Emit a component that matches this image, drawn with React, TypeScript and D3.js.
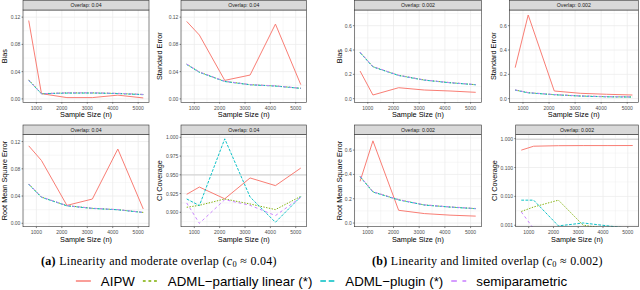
import React from "react";
import * as d3 from "d3";

// ---------- data ----------
const sampleSizes = [700, 1200, 2200, 3200, 4200, 5200];
const methodNames = ["AIPW", "ADML−partially linear (*)", "ADML−plugin (*)", "semiparametric"];
const methodColors = ["#F8766D", "#7CAE00", "#00BFC4", "#C77CFF"];
const xTicks = [1000, 2000, 3000, 4000, 5000];

// (a) moderate overlap
const biasA_AIPW = [0.115, 0.0077, 0.0019, 0.0019, 0.0055, 0.0014];
const biasA_PL = [0.028, 0.0077, 0.0088, 0.0088, 0.008, 0.0065];
const biasA_Plugin = [0.027, 0.0075, 0.0085, 0.0086, 0.0078, 0.0062];
const biasA_Semi = [0.0275, 0.0076, 0.009, 0.009, 0.0082, 0.0066];

const seA_AIPW = [0.1137, 0.0937, 0.0272, 0.035, 0.1098, 0.0209];
const seA_PL = [0.051, 0.0394, 0.0258, 0.0209, 0.019, 0.0156];
const seA_Plugin = [0.0505, 0.039, 0.0255, 0.0207, 0.0188, 0.0154];
const seA_Semi = [0.0512, 0.0396, 0.026, 0.021, 0.0191, 0.0157];

const rmseA_AIPW = [0.1137, 0.0922, 0.0263, 0.0356, 0.109, 0.021];
const rmseA_PL = [0.0576, 0.0385, 0.0259, 0.022, 0.02, 0.016];
const rmseA_Plugin = [0.0572, 0.0382, 0.0256, 0.0218, 0.0198, 0.0158];
const rmseA_Semi = [0.0578, 0.0387, 0.026, 0.0221, 0.0201, 0.0161];

const ciA_AIPW = [0.924, 0.9337, 0.918, 0.9458, 0.9356, 0.959];
const ciA_PL = [0.9067, 0.9093, 0.9178, 0.9111, 0.9036, 0.9213];
const ciA_Plugin = [0.9178, 0.909, 0.998, 0.9204, 0.8867, 0.9209];
const ciA_Semi = [0.9124, 0.8853, 0.9169, 0.9093, 0.8956, 0.9198];

// (b) limited overlap
const biasB_AIPW = [0.227, 0.03, 0.09, 0.071, 0.063, 0.052];
const biasB_PL = [0.381, 0.263, 0.192, 0.153, 0.1315, 0.115];
const biasB_Plugin = [0.378, 0.261, 0.19, 0.152, 0.1305, 0.114];
const biasB_Semi = [0.383, 0.264, 0.193, 0.154, 0.132, 0.116];

const seB_AIPW = [0.255, 0.688, 0.063, 0.044, 0.036, 0.03];
const seB_PL = [0.071, 0.049, 0.033, 0.022, 0.016, 0.014];
const seB_Plugin = [0.07, 0.048, 0.032, 0.021, 0.015, 0.013];
const seB_Semi = [0.072, 0.05, 0.034, 0.023, 0.017, 0.015];

const rmseB_AIPW = [0.343, 0.676, 0.105, 0.078, 0.065, 0.057];
const rmseB_PL = [0.384, 0.257, 0.192, 0.149, 0.132, 0.119];
const rmseB_Plugin = [0.381, 0.255, 0.19, 0.148, 0.131, 0.118];
const rmseB_Semi = [0.386, 0.258, 0.193, 0.15, 0.133, 0.12];

const ciB_AIPW = [0.4, 0.547, 0.57, 0.575, 0.575, 0.578];
const ciB_PL = [0.003, 0.0043, 0.0074, 0.001, 0, 0];
const ciB_Plugin = [0.0074, 0.0074, 0.00095, 0.0012, 0.00095, 0];
const ciB_Semi = [0.0029, 0, 0, 0, 0, 0];

const ticksA = [0, 0.04, 0.08, 0.12];
const ticksALabels = ["0.00", "0.04", "0.08", "0.12"];
const ticksB = [0, 0.2, 0.4, 0.6];
const ticksBLabels = ["0.0", "0.2", "0.4", "0.6"];
const ticksCiA = [0.9, 0.925, 0.95, 0.975, 1.0];
const ticksCiALabels = ["0.900", "0.925", "0.950", "0.975", "1.000"];
const ticksCiB = [0.001, 0.01, 0.1, 1];
const ticksCiBLabels = ["0.001", "0.010", "0.100", "1.000"];

// ---------- style ----------
const FONT = "'Liberation Sans', Arial, Helvetica, sans-serif";
const SERIF = "'Liberation Serif', 'Times New Roman', serif";
const dashes = [undefined, "1.4,1.4", "2.8,1.4", "2.8,2.8"];
const legendDashes = [undefined, "2.8,2.8", "5.6,2.8", "5.6,5.6"];

type PanelProps = {
  id: string;
  x0: number; x1: number; y0: number; y1: number; stripH: number;
  yDomain: [number, number]; log?: boolean;
  yTicks: number[]; yLabels: string[];
  yTitle: string; titleX: number; strip: string;
  series: number[][]; hline?: number;
};

function Panel(p: PanelProps) {
  const ext = d3.extent(sampleSizes) as [number, number];
  const pad = (ext[1] - ext[0]) * 0.05;
  const x = d3.scaleLinear().domain([ext[0] - pad, ext[1] + pad]).range([p.x0, p.x1]);
  const y = p.log
    ? d3.scaleLog().domain(p.yDomain).range([p.y1, p.y0])
    : d3.scaleLinear().domain(p.yDomain).range([p.y1, p.y0]);
  const xd = x.domain();
  const yd = p.yDomain;
  const xMinor: number[] = [];
  for (let v = 500; v <= 6000; v += 1000) if (v >= xd[0] && v <= xd[1]) xMinor.push(v);
  const yMinor: number[] = [];
  if (p.log) {
    const lt = p.yTicks.map((t) => Math.log10(t));
    const step = lt[1] - lt[0];
    for (let i = -1; i < lt.length; i++) {
      const v = Math.pow(10, lt[0] + step * (i + 0.5));
      if (v >= yd[0] && v <= yd[1]) yMinor.push(v);
    }
  } else {
    const step = p.yTicks[1] - p.yTicks[0];
    for (let i = -1; i < p.yTicks.length; i++) {
      const v = p.yTicks[0] + step * (i + 0.5);
      if (v >= yd[0] && v <= yd[1]) yMinor.push(v);
    }
  }
  const yv = (v: number) => (p.log && v <= 0 ? p.y1 + 2 : (y(v) as number));
  const line = d3
    .line<number>()
    .x((_, i) => x(sampleSizes[i]))
    .y((v) => yv(v));
  const cx = (p.x0 + p.x1) / 2;
  return (
    <g>
      <defs>
        <clipPath id={p.id}>
          <rect x={p.x0} y={p.y0} width={p.x1 - p.x0} height={p.y1 - p.y0} />
        </clipPath>
      </defs>
      <rect x={p.x0} y={p.y0} width={p.x1 - p.x0} height={p.y1 - p.y0} fill="#ffffff" />
      {xMinor.map((v) => (
        <line key={"xm" + v} x1={x(v)} x2={x(v)} y1={p.y0} y2={p.y1} stroke="#EBEBEB" strokeWidth={0.4} />
      ))}
      {yMinor.map((v) => (
        <line key={"ym" + v} x1={p.x0} x2={p.x1} y1={y(v)} y2={y(v)} stroke="#EBEBEB" strokeWidth={0.4} />
      ))}
      {xTicks.map((v) => (
        <line key={"xg" + v} x1={x(v)} x2={x(v)} y1={p.y0} y2={p.y1} stroke="#EBEBEB" strokeWidth={0.75} />
      ))}
      {p.yTicks.map((v) => (
        <line key={"yg" + v} x1={p.x0} x2={p.x1} y1={y(v)} y2={y(v)} stroke="#EBEBEB" strokeWidth={0.75} />
      ))}
      {p.hline !== undefined && (
        <line x1={p.x0} x2={p.x1} y1={y(p.hline)} y2={y(p.hline)} stroke="#D6D6D6" strokeWidth={1.3} />
      )}
      <g clipPath={`url(#${p.id})`}>
        {p.series.map((s, i) => (
          <path
            key={i}
            d={line(s) || ""}
            fill="none"
            stroke={methodColors[i]}
            strokeWidth={0.95}
            strokeDasharray={dashes[i]}
          />
        ))}
      </g>
      <rect x={p.x0} y={p.y0} width={p.x1 - p.x0} height={p.y1 - p.y0} fill="none" stroke="#333333" strokeWidth={0.6} />
      <rect x={p.x0} y={p.y0 - p.stripH} width={p.x1 - p.x0} height={p.stripH} fill="#D9D9D9" stroke="#333333" strokeWidth={0.6} />
      <text x={cx} y={p.y0 - p.stripH / 2} textAnchor="middle" dominantBaseline="central" fontSize={5.2} fill="#1A1A1A" fontFamily={FONT}>
        {p.strip}
      </text>
      {xTicks.map((v) => (
        <g key={"xt" + v}>
          <line x1={x(v)} x2={x(v)} y1={p.y1} y2={p.y1 + 1.4} stroke="#333333" strokeWidth={0.6} />
          <text x={x(v)} y={p.y1 + 5.4} textAnchor="middle" dominantBaseline="central" fontSize={5} fill="#4D4D4D" fontFamily={FONT}>
            {d3.format("d")(v)}
          </text>
        </g>
      ))}
      <text x={cx} y={p.y1 + 12.6} textAnchor="middle" dominantBaseline="central" fontSize={7.3} fill="#000" fontFamily={FONT}>
        Sample Size (n)
      </text>
      {p.yTicks.map((v, i) => (
        <g key={"yt" + v}>
          <line x1={p.x0 - 1.4} x2={p.x0} y1={y(v)} y2={y(v)} stroke="#333333" strokeWidth={0.6} />
          <text x={p.x0 - 2.6} y={y(v)} textAnchor="end" dominantBaseline="central" fontSize={5} fill="#4D4D4D" fontFamily={FONT}>
            {p.yLabels[i]}
          </text>
        </g>
      ))}
      <text
        transform={`translate(${p.titleX},${(p.y0 + p.y1) / 2}) rotate(-90)`}
        textAnchor="middle"
        dominantBaseline="central"
        fontSize={7.3}
        fill="#000"
        fontFamily={FONT}
      >
        {p.yTitle}
      </text>
    </g>
  );
}

function measure(text: string, font: string): number {
  const c = document.createElement("canvas").getContext("2d");
  if (!c) return text.length * 6;
  c.font = font;
  return c.measureText(text).width;
}

const CAP_SPACING = 0.3;

function Caption({ x, width, label, body, value }: { x: number; width: number; label: string; body: string; value: string }) {
  const base = 10;
  const full = `(${label}) ${body} (c0 ≈ ${value})`;
  const w =
    measure(`(${label})`, `bold ${base}px 'Liberation Serif'`) +
    measure(` ${body} (c`, `${base}px 'Liberation Serif'`) +
    measure("0", `${base * 0.7}px 'Liberation Serif'`) +
    measure(` ≈ ${value})`, `${base}px 'Liberation Serif'`);
  const spacing = CAP_SPACING * full.length;
  const fs = Math.min(14, Math.max(8, (base * (width - spacing)) / w));
  return (
    <text x={x} y={264.5} fontFamily={SERIF} fontSize={fs} fill="#000" letterSpacing={CAP_SPACING}>
      <tspan fontWeight="bold">({label})</tspan>
      <tspan> {body} (</tspan>
      <tspan fontStyle="italic">c</tspan>
      <tspan fontSize={fs * 0.7} dy={fs * 0.18}>0</tspan>
      <tspan dy={-fs * 0.18}> ≈ {value})</tspan>
    </text>
  );
}

export default function App() {
  const top = { y0: 10, y1: 102.3, stripH: 9.4 };
  const bot = { y0: 134.4, y1: 226.7, stripH: 9.4 };
  const domA: [number, number] = [-0.005, 0.1305];
  const domB: [number, number] = [-0.03, 0.729];
  const domCiA: [number, number] = [0.8808, 1.0039];
  const domCiB: [number, number] = [Math.pow(10, -3.05), Math.pow(10, 0.147)];

  const panels: PanelProps[] = [
    { id: "p1", x0: 23, x1: 149, ...top, yDomain: domA, yTicks: ticksA, yLabels: ticksALabels, yTitle: "Bias", titleX: 4.6, strip: "Overlap: 0.04", series: [biasA_AIPW, biasA_PL, biasA_Plugin, biasA_Semi] },
    { id: "p2", x0: 181, x1: 306.5, ...top, yDomain: domA, yTicks: ticksA, yLabels: ticksALabels, yTitle: "Standard Error", titleX: 159.6, strip: "Overlap: 0.04", series: [seA_AIPW, seA_PL, seA_Plugin, seA_Semi] },
    { id: "p3", x0: 354.3, x1: 481.5, ...top, yDomain: domB, yTicks: ticksB, yLabels: ticksBLabels, yTitle: "Bias", titleX: 339, strip: "Overlap: 0.002", series: [biasB_AIPW, biasB_PL, biasB_Plugin, biasB_Semi] },
    { id: "p4", x0: 509.3, x1: 638.3, ...top, yDomain: domB, yTicks: ticksB, yLabels: ticksBLabels, yTitle: "Standard Error", titleX: 493, strip: "Overlap: 0.002", series: [seB_AIPW, seB_PL, seB_Plugin, seB_Semi] },
    { id: "p5", x0: 23, x1: 149, ...bot, yDomain: domA, yTicks: ticksA, yLabels: ticksALabels, yTitle: "Root Mean Square Error", titleX: 4.6, strip: "Overlap: 0.04", series: [rmseA_AIPW, rmseA_PL, rmseA_Plugin, rmseA_Semi] },
    { id: "p6", x0: 181, x1: 306.5, ...bot, yDomain: domCiA, yTicks: ticksCiA, yLabels: ticksCiALabels, yTitle: "CI Coverage", titleX: 159.3, strip: "Overlap: 0.04", series: [ciA_AIPW, ciA_PL, ciA_Plugin, ciA_Semi], hline: 0.95 },
    { id: "p7", x0: 354.3, x1: 481.5, ...bot, yDomain: domB, yTicks: ticksB, yLabels: ticksBLabels, yTitle: "Root Mean Square Error", titleX: 339, strip: "Overlap: 0.002", series: [rmseB_AIPW, rmseB_PL, rmseB_Plugin, rmseB_Semi] },
    { id: "p8", x0: 515.7, x1: 638.3, ...bot, yDomain: domCiB, log: true, yTicks: ticksCiB, yLabels: ticksCiBLabels, yTitle: "CI Coverage", titleX: 494.8, strip: "Overlap: 0.002", series: [ciB_AIPW, ciB_PL, ciB_Plugin, ciB_Semi], hline: 0.95 },
  ];

  const legFont = 13.3;
  const keyLen = 15;
  const keyGap = 10;
  const itemGap = 8;
  const widths = methodNames.map((m) => measure(m, `${legFont}px 'Liberation Sans'`));
  const total = widths.reduce((a, w) => a + keyLen + keyGap + w, 0) + itemGap * (methodNames.length - 1);
  let lx = 321.5 - total / 2;
  const items = methodNames.map((m, i) => {
    const it = { x: lx, w: widths[i], name: m, i };
    lx += keyLen + keyGap + widths[i] + itemGap;
    return it;
  });
  const legY = 281;

  return (
    <svg
      width={640}
      height={290}
      viewBox="0 0 640 290"
      style={{ position: "absolute", left: 0, top: 0, background: "#fff" }}
    >
      <rect x={0} y={0} width={640} height={290} fill="#fff" />
      {panels.map((p) => (
        <Panel key={p.id} {...p} />
      ))}
      <Caption x={41} width={236} label="a" body="Linearity and moderate overlap" value="0.04" />
      <Caption x={372} width={231} label="b" body="Linearity and limited overlap" value="0.002" />
      {items.map((it) => (
        <g key={it.name}>
          <line
            x1={it.x}
            x2={it.x + keyLen}
            y1={legY}
            y2={legY}
            stroke={methodColors[it.i]}
            strokeWidth={1.4}
            strokeDasharray={legendDashes[it.i]}
          />
          <text
            x={it.x + keyLen + keyGap}
            y={legY}
            dominantBaseline="central"
            fontSize={legFont}
            fontFamily={FONT}
            fill="#000"
          >
            {it.name}
          </text>
        </g>
      ))}
    </svg>
  );
}
